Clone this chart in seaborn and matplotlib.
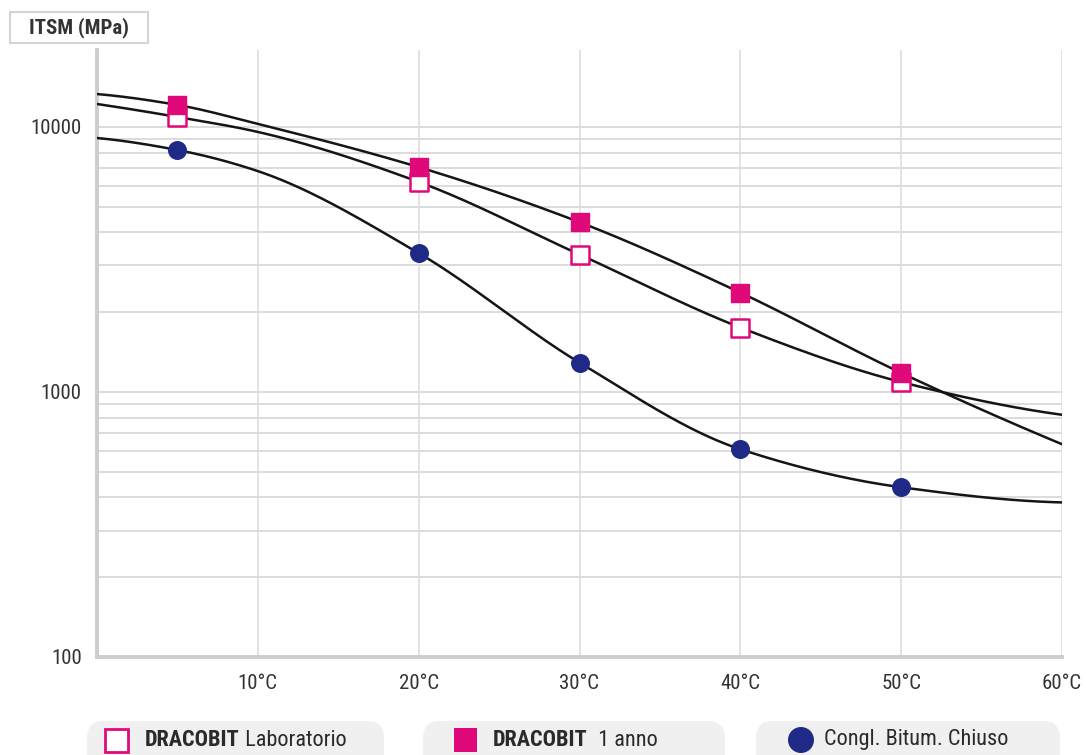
import matplotlib
matplotlib.use('Agg')
import matplotlib.pyplot as plt
from matplotlib import font_manager
from matplotlib.patches import FancyBboxPatch, Rectangle, Circle
from matplotlib.ticker import LogLocator, NullFormatter, FixedLocator
import seaborn as sns
import numpy as np
import pandas as pd

# measured points (temperature in °C, ITSM in MPa)
temps = [5, 20, 30, 40, 50]
lab = [10900, 6200, 3300, 1750, 1090]      # DRACOBIT Laboratorio
anno = [12100, 7050, 4370, 2370, 1180]     # DRACOBIT 1 anno
congl = [8180, 3340, 1290, 608, 437]       # Congl. Bitum. Chiuso

# where the trend curves run outside / between the measured points
curve_temps = [0, 10, 60]
lab_curve = [12200, 9570, 820]
anno_curve = [13300, 10260, 635]
congl_curve = [9080, 6810, 383]

x_ticks = [10, 20, 30, 40, 50, 60]
x_labels = ["10°C", "20°C", "30°C", "40°C", "50°C", "60°C"]
y_ticks = [100, 1000, 10000]
y_labels = ["100", "1000", "10000"]

PINK = '#e0097a'
NAVY = '#1e2a86'
TXT = '#333333'

sns.set_style('white')
available = {f.name for f in font_manager.fontManager.ttflist}
font = 'Roboto'
fs_tick, fs_leg, fs_title = 13.5, 15, 14.5
for name in ['Liberation Sans Narrow', 'Roboto Condensed', 'DejaVu Sans Condensed']:
    if name in available:
        font = name
        fs_tick, fs_leg, fs_title = 15, 16, 15
        break
plt.rcParams['font.family'] = [font, 'DejaVu Sans']


def pchip(x, y, xs):
    # monotone cubic through the knots (Fritsch-Carlson)
    x = np.asarray(x, float)
    y = np.asarray(y, float)
    h = np.diff(x)
    d = np.diff(y) / h
    n = len(x)
    m = np.zeros(n)
    for k in range(1, n - 1):
        if d[k - 1] * d[k] > 0:
            w1 = 2 * h[k] + h[k - 1]
            w2 = h[k] + 2 * h[k - 1]
            m[k] = (w1 + w2) / (w1 / d[k - 1] + w2 / d[k])
    m[0] = ((2 * h[0] + h[1]) * d[0] - h[0] * d[1]) / (h[0] + h[1])
    if np.sign(m[0]) != np.sign(d[0]):
        m[0] = 0
    m[-1] = ((2 * h[-1] + h[-2]) * d[-1] - h[-1] * d[-2]) / (h[-1] + h[-2])
    if np.sign(m[-1]) != np.sign(d[-1]):
        m[-1] = 0
    idx = np.clip(np.searchsorted(x, xs) - 1, 0, n - 2)
    t = (xs - x[idx]) / h[idx]
    h00 = 2 * t**3 - 3 * t**2 + 1
    h10 = t**3 - 2 * t**2 + t
    h01 = -2 * t**3 + 3 * t**2
    h11 = t**3 - t**2
    return (h00 * y[idx] + h10 * h[idx] * m[idx]
            + h01 * y[idx + 1] + h11 * h[idx] * m[idx + 1])


fig, ax = plt.subplots(figsize=(10.86, 7.55), dpi=100)
fig.subplots_adjust(left=97 / 1086, right=1062 / 1086,
                    bottom=1 - 657 / 755, top=1 - 50 / 755)

xs = np.linspace(0, 60, 400)
for pts, ext in [(lab, lab_curve), (anno, anno_curve), (congl, congl_curve)]:
    knots = sorted(zip(list(temps) + curve_temps, list(pts) + ext))
    kx = [k[0] for k in knots]
    ky = np.log10([k[1] for k in knots])
    curve = pd.DataFrame({'t': xs, 'v': 10 ** pchip(kx, ky, xs)})
    sns.lineplot(data=curve, x='t', y='v', ax=ax, color='#151515',
                 linewidth=1.8, zorder=3, estimator=None, sort=False)

sns.scatterplot(x=temps, y=lab, ax=ax, marker='s', s=150, color='white',
                edgecolor=PINK, linewidth=1.8, zorder=5)
sns.scatterplot(x=temps, y=anno, ax=ax, marker='s', s=150, color=PINK,
                edgecolor=PINK, linewidth=1, zorder=5)
sns.scatterplot(x=temps, y=congl, ax=ax, marker='o', s=160, color=NAVY,
                edgecolor=NAVY, linewidth=1, zorder=5)

ax.set_yscale('log')
ax.set_xlim(0, 60)
ax.set_ylim(100, 19500)
ax.set_xticks(x_ticks)
ax.set_xticklabels(x_labels)
ax.yaxis.set_major_locator(FixedLocator(y_ticks))
ax.set_yticklabels(y_labels)
ax.yaxis.set_minor_locator(LogLocator(base=10, subs=np.arange(2, 10)))
ax.yaxis.set_minor_formatter(NullFormatter())
ax.set_xlabel('')
ax.set_ylabel('')

ax.grid(axis='y', which='both', color='#dcdcdc', linewidth=1.4, zorder=0)
ax.grid(axis='x', which='major', color='#e0e0e0', linewidth=1.3, zorder=0)
ax.set_axisbelow(True)
for side in ['top', 'right']:
    ax.spines[side].set_visible(False)
for side in ['left', 'bottom']:
    ax.spines[side].set_color('#cdcdcd')
    ax.spines[side].set_linewidth(2.8)
ax.tick_params(axis='y', which='both', length=0, pad=11,
               labelsize=fs_tick, labelcolor=TXT)
ax.tick_params(axis='x', which='major', length=4, width=1.5, color='#d0d0d0',
               pad=8, labelsize=fs_tick, labelcolor=TXT)

# y axis title in a box
px = fig.dpi_scale_trans
H = 7.55
fig.add_artist(Rectangle((10 / 100, H - 43 / 100), 138 / 100, 31 / 100,
                         transform=px, facecolor='white', edgecolor='#d4d4d4',
                         linewidth=1.5))
fig.text(79 / 100, H - 28 / 100, 'ITSM (MPa)', transform=px, ha='center',
         va='center', fontsize=fs_title, fontweight='bold', color=TXT)

# legend pills
pills = [
    (87, 384, 'open'),
    (423, 725, 'filled'),
    (756, 1060, 'circle'),
]
texts = [('DRACOBIT', ' Laboratorio'), ('DRACOBIT', '  1 anno'),
         ('', 'Congl. Bitum. Chiuso')]
fig.canvas.draw()
renderer = fig.canvas.get_renderer()
for (x0, x1, kind), (bold, reg) in zip(pills, texts):
    fig.add_artist(FancyBboxPatch((x0 / 100, H - 772 / 100), (x1 - x0) / 100,
                                  51 / 100, transform=px,
                                  boxstyle='round,pad=0,rounding_size=0.17',
                                  facecolor='#f0f0f0', edgecolor='none'))
    cy = H - 740 / 100
    if kind == 'open':
        fig.add_artist(Rectangle(((x0 + 18) / 100, cy - 0.115), 0.23, 0.23,
                                 transform=px, facecolor='white',
                                 edgecolor=PINK, linewidth=2))
        tx = x0 + 58
    elif kind == 'filled':
        fig.add_artist(Rectangle(((x0 + 31) / 100, cy - 0.12), 0.23, 0.24,
                                 transform=px, facecolor=PINK,
                                 edgecolor='none'))
        tx = x0 + 70
    else:
        fig.add_artist(Circle(((x0 + 45) / 100, cy), 0.13, transform=px,
                              facecolor=NAVY, edgecolor='none'))
        tx = x0 + 68
    x = tx / 100
    if bold:
        t = fig.text(x, cy, bold, transform=px, ha='left', va='center',
                     fontsize=fs_leg, fontweight='bold', color='#2a2a2a')
        bb = t.get_window_extent(renderer)
        x = bb.x1 / fig.dpi
    fig.text(x, cy, reg, transform=px, ha='left', va='center',
             fontsize=fs_leg, color='#2a2a2a')

fig.savefig('out.png', dpi=100)
